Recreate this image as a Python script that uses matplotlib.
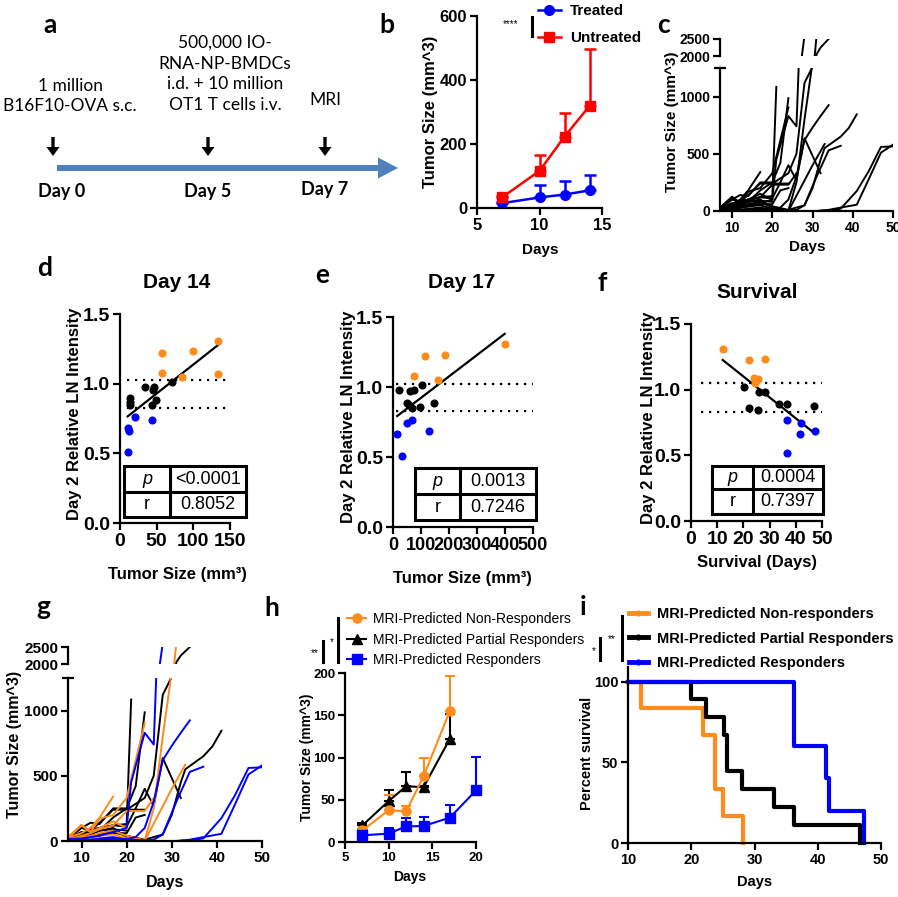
import numpy as np
import matplotlib
matplotlib.use("Agg")
import matplotlib.pyplot as plt
from matplotlib.lines import Line2D
from matplotlib.patches import Rectangle

plt.rcParams['font.family'] = ['Liberation Sans', 'DejaVu Sans']
plt.rcParams['font.weight'] = 'bold'
plt.rcParams['axes.labelweight'] = 'bold'

ORANGE = '#FF8C1A'
BLUE = '#0000FF'
RED = '#FF0000'
TL_BLUE = '#4F81BD'

# ---------------- data ----------------
# b: mean tumour size
b_days = [7, 10, 12, 14]
b_treated = [15, 33, 42, 55]
b_treated_err = [3, 40, 41, 47]
b_untreated = [33, 116, 223, 319]
b_untreated_err = [5, 50, 75, 178]

# c / g: individual growth curves, group N = non-resp, P = partial, R = resp
curve_group = ['P', 'P', 'P', 'P', 'P', 'P', 'P', 'P', 'P',
               'N', 'N', 'N', 'N', 'N', 'N',
               'R', 'R', 'R', 'R', 'R']
curve_days = [
    [7, 10, 12, 14, 17, 20, 21],
    [7, 10, 12, 14, 17, 20, 22, 24],
    [7, 10, 12, 14, 17, 20, 24, 26, 28, 30, 31, 32, 34],
    [7, 10, 12, 14, 17, 20, 24, 28, 30, 32, 33, 37, 39, 41],
    [7, 10, 12, 14, 17, 20, 22, 24, 26, 28, 32],
    [7, 10, 12, 14, 17, 20, 21, 24],
    [7, 10, 12, 14, 17, 20],
    [7, 10, 12, 14, 17, 20, 22, 24],
    [7, 10, 12, 14, 17, 20],
    [7, 10, 12, 14, 17, 20, 24],
    [7, 10, 12, 14, 17, 20, 24, 26, 28, 30, 31],
    [7, 10, 12, 14, 17, 20, 24, 27, 30, 33],
    [7, 10, 12, 14, 17],
    [7, 10, 12, 14, 17, 20],
    [7, 10, 12, 14, 17, 20, 24, 26],
    [7, 10, 12, 14, 17, 20, 21, 24, 26, 28],
    [7, 10, 12, 14, 17, 20, 22, 24, 26, 28, 30, 32, 34],
    [7, 10, 12, 14, 17, 20, 24, 26, 28, 31, 34, 37],
    [7, 10, 12, 14, 17, 20, 24, 28, 31, 34, 37, 41, 44, 47, 50],
    [7, 10, 12, 14, 17, 20, 24, 28, 31, 34, 37, 41, 44, 47, 50],
]
curve_vals = [
    [25, 60, 90, 100, 120, 130, 1085],
    [10, 30, 50, 80, 180, 250, 420, 987],
    [20, 100, 80, 140, 240, 240, 330, 500, 1120, 1260, 2050, 2250, 2500],
    [15, 40, 30, 50, 70, 40, 10, 50, 200, 450, 550, 650, 725, 845],
    [20, 50, 70, 100, 120, 110, 250, 400, 270, 636, 330],
    [30, 100, 140, 130, 250, 250, 240, 240],
    [10, 40, 60, 80, 100, 30],
    [5, 20, 30, 50, 60, 60, 180, 200],
    [20, 70, 50, 80, 90, 80],
    [20, 120, 70, 170, 200, 330, 905],
    [10, 30, 40, 60, 80, 40, 5, 250, 800, 1300, 2600],
    [15, 20, 30, 40, 50, 20, 0, 200, 400, 585],
    [25, 60, 100, 180, 340],
    [30, 125, 70, 100, 150, 100],
    [10, 40, 60, 90, 120, 230, 230, 330],
    [15, 20, 30, 40, 70, 100, 450, 830, 740, 2600],
    [5, 10, 10, 15, 20, 15, 30, 100, 300, 620, 730, 830, 925],
    [10, 15, 10, 20, 30, 10, 5, 10, 50, 300, 530, 570],
    [5, 5, 5, 5, 10, 5, 0, 0, 0, 5, 20, 175, 350, 560, 565],
    [10, 10, 5, 5, 5, 0, 0, 0, 0, 10, 30, 55, 280, 510, 580],
]
group_color = {'N': ORANGE, 'P': 'black', 'R': BLUE}

# d: day-14 tumour size vs day-2 LN intensity
d_orange_x = [134, 57.6, 99.6, 57.6, 85, 134]
d_orange_y = [1.306, 1.223, 1.235, 1.08, 1.046, 1.07]
d_black_x = [14.2, 14.2, 14.2, 34.3, 46, 45, 44, 48.5, 71]
d_black_y = [0.872, 0.848, 0.896, 0.979, 0.979, 0.955, 0.848, 0.884, 1.01]
d_blue_x = [10.5, 12.8, 20.6, 44, 10.5]
d_blue_y = [0.68, 0.657, 0.764, 0.74, 0.506]
d_cut = [1.027, 0.824]

# e: day-17
e_orange_x = [399, 113, 187, 74, 159]
e_orange_y = [1.305, 1.22, 1.232, 1.078, 1.049]
e_black_x = [21, 60, 75, 104, 50, 57, 68, 95, 145]
e_black_y = [0.978, 0.973, 0.978, 1.014, 0.888, 0.871, 0.847, 0.855, 0.888]
e_blue_x = [15, 51, 69, 128, 33]
e_blue_y = [0.662, 0.741, 0.764, 0.686, 0.508]
e_cut = [1.025, 0.828]

# f: survival
f_orange_x = [12.1, 22, 28.4, 23.9, 25.4, 24.3]
f_orange_y = [1.31, 1.226, 1.236, 1.086, 1.08, 1.053]
f_black_x = [20.1, 25.8, 28.4, 33.5, 36.6, 47.1, 22.3, 25.4]
f_black_y = [1.023, 0.985, 0.985, 0.891, 0.891, 0.876, 0.858, 0.845]
f_blue_x = [36.6, 42.1, 41.5, 47.5, 36.6]
f_blue_y = [0.769, 0.749, 0.662, 0.688, 0.515]
f_cut = [1.053, 0.832]

# h: group means
h_orange_days = [7, 10, 12, 14, 17]
h_orange = [13.8, 37.5, 36.3, 77.7, 155]
h_orange_err = [2, 18.5, 6.7, 22, 41]
h_black_days = [7, 10, 12, 14, 17]
h_black = [19.7, 48.5, 65.9, 65, 122]
h_black_err = [3.2, 13.5, 17, 1, 30]
h_blue_days = [7, 10, 12, 14, 17, 20]
h_blue = [7.9, 9.9, 18.5, 18.9, 28.8, 61]
h_blue_err = [2, 6.7, 10, 10.7, 15, 39.6]

# i: survival times (days)
i_orange_t = [12, 21.8, 23.7, 23.7, 25, 28.2]
i_black_t = [20, 22.3, 25.2, 25.7, 25.7, 28.1, 33.1, 36.3, 46.7]
i_blue_t = [36.3, 36.3, 41.3, 41.8, 47.3]

# ---------------- figure ----------------
W, H = 898, 897
fig = plt.figure(figsize=(W / 100, H / 100), dpi=100)


def px_axes(l, t, r, b):
    return fig.add_axes([l / W, 1 - b / H, (r - l) / W, (b - t) / H])


def style(ax, fs):
    for s in ['top', 'right']:
        ax.spines[s].set_visible(False)
    for s in ['left', 'bottom']:
        ax.spines[s].set_linewidth(1.6)
    ax.tick_params(width=1.6, length=5, labelsize=fs, pad=2)


# overlay in pixel units, drawn on top of every panel
ov = px_axes(0, 0, W, H)
ov.set_xlim(0, W)
ov.set_ylim(H, 0)
ov.axis('off')
ov.set_zorder(10)


def otext(x, y, s, fs, **kw):
    ov.text(x, y, s, fontsize=fs, ha=kw.pop('ha', 'center'), va=kw.pop('va', 'center'), **kw)


# panel letters
for lab, x, y in [('a', 50, 25), ('b', 387, 25), ('c', 663, 25), ('d', 45, 268), ('e', 322, 275),
                  ('f', 602, 283), ('g', 43, 607), ('h', 272, 608), ('i', 583, 607)]:
    otext(x, y, lab, 19, family='Lato', weight='bold')

# ---------------- a: timeline ----------------
otext(70, 96, '1 million\nB16F10-OVA s.c.', 12.5, family='Lato', weight='normal', linespacing=1.38)
otext(225, 74, '500,000 IO-\nRNA-NP-BMDCs\ni.d. + 10 million\nOT1 T cells i.v.', 12.5,
      family='Lato', weight='normal', linespacing=1.38)
otext(325, 100, 'MRI', 12.5, family='Lato', weight='normal')
for x in [53, 208, 325]:
    ov.arrow(x, 137, 0, 19, width=3.3, head_width=13, head_length=9,
             length_includes_head=True, color='black', lw=0)
ov.arrow(57, 168, 341, 0, width=6, head_width=21, head_length=20,
         length_includes_head=True, color=TL_BLUE, lw=0)
for s, x, y in [('Day 0', 62, 192), ('Day 5', 208, 192), ('Day 7', 325, 189)]:
    otext(x, y, s, 13, family='Lato', weight='bold')

# ---------------- b ----------------
axb = px_axes(477, 16, 602, 208)
axb.errorbar(b_days, b_treated, yerr=[np.zeros(len(b_days)), b_treated_err], color=BLUE,
             marker='o', ms=7, lw=1.8, capsize=4, elinewidth=1.8, capthick=1.8, clip_on=False)
axb.errorbar(b_days, b_untreated, yerr=[np.zeros(len(b_days)), b_untreated_err], color=RED,
             marker='s', ms=7, lw=1.8, capsize=4, elinewidth=1.8, capthick=1.8, clip_on=False)
axb.set_xlim(5, 15)
axb.set_ylim(0, 600)
axb.set_xticks([5, 10, 15])
axb.set_yticks([0, 200, 400, 600])
style(axb, 12)
otext(540, 250, 'Days', 11)
otext(430, 112, 'Tumor Size (mm^3)', 12, rotation=90)
hb = [Line2D([], [], color=BLUE, marker='o', ms=7, lw=1.8),
      Line2D([], [], color=RED, marker='s', ms=7, lw=1.8)]
axb.legend(hb, ['Treated', 'Untreated'], loc='upper left', bbox_to_anchor=(538 / W, 1 - 4 / H),
           bbox_transform=fig.transFigure, frameon=False, fontsize=11, borderpad=0,
           borderaxespad=0, handlelength=1.5, handletextpad=0.6, labelspacing=0.85)
otext(511, 24, '****', 7, weight='normal')
ov.plot([532, 532], [17, 36], color='black', lw=2.2)


# ---------------- c / g broken-axis spaghetti ----------------
def broken(l, r, b_low, t_low, b_up, t_up, fs, colored):
    low = px_axes(l, t_low, r, b_low)
    up = px_axes(l, t_up, r, b_up)
    for g in ['P', 'N', 'R']:
        for days, vals, grp in zip(curve_days, curve_vals, curve_group):
            if grp != g:
                continue
            col = group_color[grp] if colored else 'black'
            for a in (low, up):
                a.plot(days, vals, color=col, lw=1.4)
    for a in (low, up):
        a.set_xlim(7, 50)
        style(a, fs)
    low.set_ylim(0, 1250)
    up.set_ylim(2000, 2500)
    low.set_yticks([0, 500, 1000])
    low.set_yticks([1250], minor=True)
    low.tick_params(which='minor', direction='inout', length=9, width=1.6)
    low.set_xticks([10, 20, 30, 40, 50])
    up.set_yticks([2000, 2500])
    up.spines['bottom'].set_visible(False)
    up.tick_params(axis='x', bottom=False, labelbottom=False)
    return low, up


broken(720, 893, 211, 68, 56, 39, 10, False)
otext(807, 247, 'Days', 11)
otext(672, 122, 'Tumor Size (mm^3)', 11, rotation=90)

broken(68, 262, 841, 678, 664, 647, 11, True)
otext(165, 882, 'Days', 11.5)
otext(15, 744, 'Tumor Size (mm^3)', 11.5, rotation=90)


# ---------------- d / e / f scatter ----------------
def pr_table(ax, x0, x1, y0, y1, xc, yr, pval, rval):
    tr = ax.transAxes
    ax.add_patch(Rectangle((x0, y0), x1 - x0, y1 - y0, transform=tr, facecolor='white',
                           edgecolor='black', lw=2.2, clip_on=False, zorder=5))
    ax.plot([xc, xc], [y0, y1], transform=tr, color='black', lw=2.2, clip_on=False, zorder=6)
    ax.plot([x0, x1], [yr, yr], transform=tr, color='black', lw=2.2, clip_on=False, zorder=6)
    kw = dict(transform=tr, ha='center', va='center', fontsize=13, weight='normal', zorder=7)
    ax.text((x0 + xc) / 2, (yr + y1) / 2, 'p', style='italic', **kw)
    ax.text((xc + x1) / 2, (yr + y1) / 2, pval, **kw)
    ax.text((x0 + xc) / 2, (y0 + yr) / 2, 'r', **kw)
    ax.text((xc + x1) / 2, (y0 + yr) / 2, rval, **kw)


def scatter_panel(box, ox, oy, kx, ky, bx, by, cut, xmax, xticks, cut_from, title, ty, tx,
                  xlab, xlab_y, ylab_x, tab, pval, rval, xfs):
    ax = px_axes(*box)
    ax.scatter(ox, oy, s=34, color=ORANGE, zorder=3, lw=0)
    ax.scatter(kx, ky, s=34, color='black', zorder=3, lw=0)
    ax.scatter(bx, by, s=34, color=BLUE, zorder=3, lw=0)
    allx = np.array(ox + kx + bx)
    ally = np.array(oy + ky + by)
    k, c0 = np.polyfit(allx, ally, 1)
    xs = np.array([allx.min(), allx.max()])
    ax.plot(xs, k * xs + c0, color='black', lw=1.6, zorder=2)
    for yv in cut:
        ax.plot([cut_from, xmax], [yv, yv], color='black', lw=1.6, ls=(0, (1, 2.6)), zorder=1)
    ax.set_xlim(0, xmax)
    ax.set_ylim(0, 1.5)
    ax.set_xticks(xticks)
    ax.set_yticks([0, 0.5, 1.0, 1.5])
    ax.set_yticklabels(['0.0', '0.5', '1.0', '1.5'])
    style(ax, 14)
    ax.tick_params(axis='x', labelsize=xfs)
    otext(tx, ty, title, 15)
    otext(tx, xlab_y, xlab, 12)
    otext(ylab_x, (box[1] + box[3]) / 2 - 5, 'Day 2 Relative LN Intensity', 12, rotation=90)
    pr_table(ax, *tab, pval, rval)


scatter_panel((120, 314, 230, 523), d_orange_x, d_orange_y, d_black_x, d_black_y, d_blue_x, d_blue_y,
              d_cut, 150, [0, 50, 100, 150], 10, 'Day 14', 282, 177, 'Tumor Size (mm³)', 575, 75,
              (0.036, 1.145, 0.029, 0.273, 0.455, 0.148), '<0.0001', '0.8052', 14)
scatter_panel((393, 317, 533, 527), e_orange_x, e_orange_y, e_black_x, e_black_y, e_blue_x, e_blue_y,
              e_cut, 500, [0, 100, 200, 300, 400, 500], 12, 'Day 17', 283, 462, 'Tumor Size (mm³)',
              578, 348, (0.157, 1.02, 0.033, 0.281, 0.479, 0.157), '0.0013', '0.7246', 13)
scatter_panel((691, 324, 822, 521), f_orange_x, f_orange_y, f_black_x, f_black_y, f_blue_x, f_blue_y,
              f_cut, 50, [0, 10, 20, 30, 40, 50], 4, 'Survival', 292, 757, 'Survival (Days)',
              562, 648, (0.16, 1.008, 0.036, 0.279, 0.473, 0.162), '0.0004', '0.7397', 14)

# ---------------- h ----------------
axh = px_axes(345, 673, 476, 842)
for d, m, e, col, mk in [(h_black_days, h_black, h_black_err, 'black', '^'),
                         (h_orange_days, h_orange, h_orange_err, ORANGE, 'o'),
                         (h_blue_days, h_blue, h_blue_err, BLUE, 's')]:
    axh.errorbar(d, m, yerr=[np.zeros(len(d)), e], color=col, marker=mk, ms=6.5, lw=1.5,
                 capsize=3.5, elinewidth=1.5, capthick=1.5, clip_on=False)
axh.set_xlim(5, 20)
axh.set_ylim(0, 200)
axh.set_xticks([5, 10, 15, 20])
axh.set_yticks([0, 50, 100, 150, 200])
style(axh, 9.5)
otext(410, 877, 'Days', 10)
otext(307, 757, 'Tumor Size (mm^3)', 10, rotation=90)
hh = [Line2D([], [], color=ORANGE, marker='o', ms=6.5, lw=1.5),
      Line2D([], [], color='black', marker='^', ms=6.5, lw=1.5),
      Line2D([], [], color=BLUE, marker='s', ms=6.5, lw=1.5)]
axh.legend(hh, ['MRI-Predicted Non-Responders', 'MRI-Predicted Partial Responders',
                'MRI-Predicted Responders'], loc='upper left', bbox_to_anchor=(347 / W, 1 - 612 / H),
           bbox_transform=fig.transFigure, frameon=False, borderpad=0, borderaxespad=0,
           handlelength=1.4, handletextpad=0.45, labelspacing=0.48,
           prop={'size': 10, 'weight': 'normal'})
otext(315, 653, '**', 7, weight='normal')
ov.plot([323, 323], [641, 662], color='black', lw=2.2)
otext(332, 642, '*', 7, weight='normal')
ov.plot([338, 338], [618, 662], color='black', lw=2.2)


# ---------------- i: Kaplan-Meier ----------------
def km(times, start):
    t = np.sort(np.array(times))
    n = len(t)
    xs, ys = [start], [100.0]
    for u in np.unique(t):
        xs.append(u)
        ys.append(100.0 * np.sum(t > u) / n)
    return xs, ys


axi = px_axes(628, 667, 881, 843)
for times, col in [(i_orange_t, ORANGE), (i_black_t, 'black'), (i_blue_t, BLUE)]:
    xs, ys = km(times, 10)
    axi.step(xs, ys, where='post', color=col, lw=3, clip_on=False)
axi.set_xlim(10, 50)
axi.set_ylim(0, 109)
axi.set_xticks([10, 20, 30, 40, 50])
axi.set_yticks([0, 50, 100])
style(axi, 10.5)
otext(755, 882, 'Days', 10.5)
otext(587, 753, 'Percent survival', 10.5, rotation=90)
hi = [Line2D([], [], color=c, lw=3.5, marker='|', ms=4, mew=2) for c in [ORANGE, 'black', BLUE]]
axi.legend(hi, ['MRI-Predicted Non-responders', 'MRI-Predicted Partial Responders',
                'MRI-Predicted Responders'], loc='upper left', bbox_to_anchor=(629 / W, 1 - 607 / H),
           bbox_transform=fig.transFigure, frameon=False, borderpad=0, borderaxespad=0,
           handlelength=1.3, handletextpad=0.6, labelspacing=0.72, fontsize=10.5)
otext(594, 651, '*', 7, weight='normal')
ov.plot([600, 600], [638, 660], color='black', lw=2.2)
otext(612, 639, '**', 7, weight='normal')
ov.plot([622, 622], [616, 660], color='black', lw=2.2)

fig.savefig('out.png', dpi=100)
